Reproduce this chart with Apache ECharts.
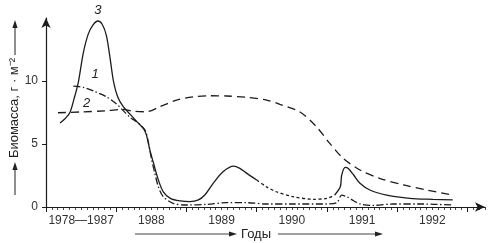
<!DOCTYPE html>
<html>
<head>
<meta charset="utf-8">
<script src="https://cdn.jsdelivr.net/npm/echarts@6/dist/echarts.min.js"></script>
<style>
  html, body { margin: 0; padding: 0; background: #fff; }
  #chart { width: 494px; height: 243px; }
</style>
</head>
<body>
<div id="chart"></div>
<script>
// подписи оси X (по центру каждого года) и оси Y
const yearLabels = ['1978—1987', '1988', '1989', '1990', '1991', '1992'];
const yearLabelPos = [1987.5, 1988.5, 1989.5, 1990.5, 1991.5, 1992.5];
const yearTicks = [1987, 1988, 1989, 1990, 1991, 1992, 1993];
const yLabels = [0, 5, 10];

// кривая 1 (штрих-пунктир)
const curve1 = [
  [1987.39, 9.6], [1987.53, 9.5], [1987.70, 9.15], [1987.86, 8.75], [1988.00, 8.2],
  [1988.10, 7.65], [1988.20, 7.1], [1988.29, 6.77], [1988.41, 6.1], [1988.46, 5.05],
  [1988.50, 3.87], [1988.55, 2.67], [1988.60, 1.6], [1988.67, 0.82], [1988.81, 0.29],
  [1989.00, 0.16], [1989.29, 0.21], [1989.57, 0.34], [1989.86, 0.34], [1990.14, 0.24],
  [1990.52, 0.24], [1991.00, 0.24], [1991.14, 0.34], [1991.21, 0.95], [1991.28, 0.82],
  [1991.38, 0.5], [1991.47, 0.24], [1991.66, 0.13], [1991.94, 0.24], [1992.32, 0.24],
  [1992.79, 0.16]
];

// кривая 2 (штрихи)
const curve2 = [
  [1987.17, 7.48], [1987.48, 7.54], [1987.86, 7.64], [1988.10, 7.75], [1988.24, 7.6],
  [1988.43, 7.56], [1988.62, 7.96], [1988.86, 8.49], [1989.10, 8.75], [1989.33, 8.83],
  [1989.57, 8.81], [1989.86, 8.7], [1990.14, 8.49], [1990.33, 8.15], [1990.61, 7.56],
  [1990.85, 6.37], [1991.04, 5.05], [1991.23, 3.87], [1991.47, 2.94], [1991.75, 2.28],
  [1992.09, 1.75], [1992.42, 1.35], [1992.79, 0.95]
];

// кривая 3 (сплошная, средний участок пунктиром)
const curve3a = [
  [1987.20, 6.67], [1987.27, 7.0], [1987.34, 7.5], [1987.40, 8.6], [1987.46, 9.9],
  [1987.53, 12.2], [1987.60, 13.7], [1987.67, 14.45], [1987.74, 14.76], [1987.80, 14.5],
  [1987.86, 13.6], [1987.91, 11.9], [1987.96, 10.0], [1988.02, 8.75], [1988.10, 7.96],
  [1988.20, 7.35], [1988.29, 6.8], [1988.39, 6.2], [1988.43, 5.7], [1988.48, 4.5],
  [1988.53, 3.5], [1988.60, 2.14], [1988.67, 1.2], [1988.77, 0.69], [1988.91, 0.48],
  [1989.05, 0.42], [1989.17, 0.56], [1989.26, 0.95], [1989.38, 1.88], [1989.52, 2.8],
  [1989.67, 3.25], [1989.76, 3.07], [1989.86, 2.67], [1990.00, 2.14]
];
const curve3b = [
  [1990.00, 2.14], [1990.14, 1.6], [1990.28, 1.21], [1990.52, 0.82], [1990.81, 0.61],
  [1991.00, 0.69], [1991.11, 0.95]
];
const curve3c = [
  [1991.11, 0.95], [1991.19, 1.6], [1991.21, 2.54], [1991.26, 3.15], [1991.30, 3.07],
  [1991.38, 2.54], [1991.47, 1.88], [1991.61, 1.35], [1991.85, 0.95], [1992.18, 0.69],
  [1992.51, 0.61], [1992.79, 0.56]
];

// номера кривых
const curveNames = ['3', '1', '2'];
const curveNamePos = [[1987.74, 15.6], [1987.70, 10.5], [1987.58, 8.2]];

// месячные деления оси X
const monthTicks = [];
for (let i = 0; i <= 75; i++) monthTicks.push(1987 + i / 12);

const ink = '#1c1c1c';
const font = 'Liberation Sans, Arial, sans-serif';

const chart = echarts.init(document.getElementById('chart'), null, { renderer: 'canvas' });

const lineSeries = (data, type) => ({
  type: 'line',
  data: data,
  smooth: 0.3,
  symbol: 'none',
  silent: true,
  lineStyle: { color: ink, width: 1.3, type: type }
});

const options = {
  animation: false,
  grid: { left: 46, right: 9, top: 18, bottom: 36 },
  xAxis: [
    {
      type: 'value',
      min: 1987,
      max: 1993.25,
      interval: 1,
      axisLine: { lineStyle: { color: ink, width: 1.2 }, symbol: ['none', 'arrow'], symbolSize: [7, 10] },
      axisTick: { show: true, length: 3, customValues: monthTicks, lineStyle: { color: ink, width: 0.8 } },
      splitLine: { show: false },
      axisLabel: {
        customValues: yearLabelPos,
        margin: 8,
        color: '#333',
        fontFamily: font,
        fontSize: 12,
        formatter: (v) => {
          const i = yearLabelPos.findIndex((p) => Math.abs(p - v) < 0.01);
          return i >= 0 ? yearLabels[i] : '';
        }
      }
    },
    {
      type: 'value',
      position: 'bottom',
      min: 1987,
      max: 1993.25,
      interval: 1,
      axisLine: { show: false },
      axisTick: { show: true, length: 5, customValues: yearTicks, lineStyle: { color: ink, width: 1 } },
      axisLabel: { show: false },
      splitLine: { show: false }
    }
  ],
  yAxis: {
    type: 'value',
    min: 0,
    max: 15,
    interval: 5,
    axisLine: { show: true, lineStyle: { color: ink, width: 1.2 }, symbol: ['none', 'arrow'], symbolSize: [7, 10] },
    axisTick: { show: true, length: 4, customValues: yLabels, lineStyle: { color: ink } },
    splitLine: { show: false },
    axisLabel: { customValues: yLabels, margin: 8, color: '#333', fontFamily: font, fontSize: 12 }
  },
  series: [
    lineSeries(curve2, [8, 5]),
    lineSeries(curve1, [7, 2.5, 1.5, 2.5]),
    lineSeries(curve3a, 'solid'),
    lineSeries(curve3b, [3, 2.5]),
    lineSeries(curve3c, 'solid')
  ]
};

chart.setOption(options);

// стрелка: линия + наконечник
const arrow = (x1, y1, x2, y2) => {
  const ang = Math.atan2(y2 - y1, x2 - x1);
  const L = 8, W = 2.6;
  const bx = x2 - L * Math.cos(ang), by = y2 - L * Math.sin(ang);
  const px = -Math.sin(ang) * W, py = Math.cos(ang) * W;
  return [
    { type: 'line', shape: { x1: x1, y1: y1, x2: bx, y2: by }, style: { stroke: '#444', lineWidth: 1.2 }, silent: true },
    { type: 'polygon', shape: { points: [[x2, y2], [bx + px, by + py], [bx - px, by - py]] }, style: { fill: '#222' }, silent: true }
  ];
};

const graphics = [];
// подпись оси Y
graphics.push({
  type: 'text', x: 14, y: 108, rotation: Math.PI / 2,
  style: { text: 'Биомасса, г · м⁻²', fill: '#222', font: '13px ' + font, textAlign: 'center', textVerticalAlign: 'middle' },
  silent: true
});
graphics.push(...arrow(15, 195, 15, 162));
graphics.push(...arrow(15, 55, 15, 20));
// подпись оси X
graphics.push({
  type: 'text', x: 256, y: 234,
  style: { text: 'Годы', fill: '#222', font: '13px ' + font, textAlign: 'center', textVerticalAlign: 'middle' },
  silent: true
});
graphics.push(...arrow(135, 234, 237, 234));
graphics.push(...arrow(278, 234, 383, 234));
// номера кривых
curveNames.forEach((t, i) => {
  const p = chart.convertToPixel({ gridIndex: 0 }, curveNamePos[i]);
  graphics.push({
    type: 'text', x: p[0], y: p[1],
    style: { text: t, fill: '#222', font: 'italic 13px ' + font, textAlign: 'center', textVerticalAlign: 'middle' },
    silent: true
  });
});

chart.setOption({ graphic: graphics });
</script>
</body>
</html>
